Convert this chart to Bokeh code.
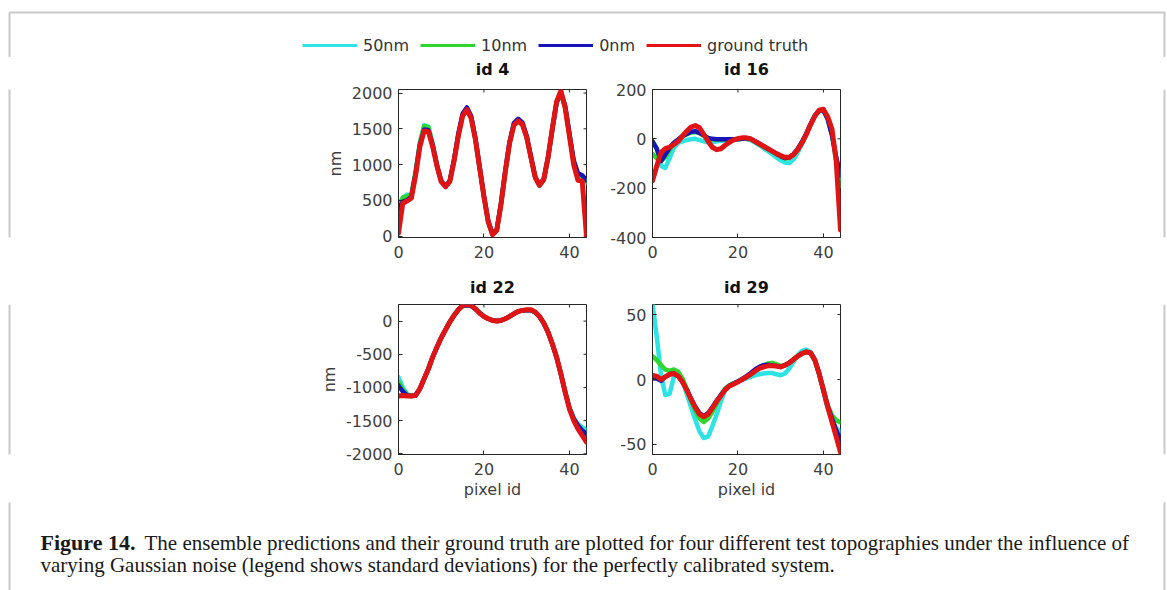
from bokeh.plotting import figure
from bokeh.layouts import column, row
from bokeh.models import (Legend, LegendItem, FixedTicker, Range1d, ColumnDataSource,
                          PrintfTickFormatter)
from bokeh.embed import file_html
from bokeh.resources import INLINE
from bokeh.core.properties import value

# ---------------- data ----------------
pixel_id = list(range(0, 45))
series_names = ["50nm", "10nm", "0nm", "ground truth"]
series_colors = ["#2ee3e3", "#2fd62f", "#1414b8", "#e01414"]

id4_50nm = [350, 520, 580, 570, 890, 1300, 1550, 1530, 1290, 990, 760, 690, 760, 1050, 1400, 1680, 1770, 1650, 1350, 950, 550, 200, 20, 80, 450, 900, 1300, 1550, 1610, 1560, 1380, 1100, 820, 700, 780, 1090, 1490, 1860, 2000, 1790, 1410, 1030, 850, 830, 750]
id4_10nm = [420, 540, 560, 580, 900, 1300, 1540, 1520, 1280, 990, 770, 700, 770, 1060, 1410, 1690, 1780, 1660, 1360, 950, 550, 200, 20, 80, 450, 900, 1300, 1560, 1620, 1570, 1390, 1100, 820, 710, 790, 1100, 1500, 1870, 2000, 1800, 1420, 1040, 860, 840, 760]
id4_0nm = [380, 480, 500, 550, 870, 1270, 1490, 1480, 1270, 990, 770, 700, 770, 1070, 1430, 1710, 1800, 1680, 1370, 960, 560, 210, 30, 90, 460, 920, 1320, 1580, 1640, 1590, 1400, 1110, 830, 720, 800, 1100, 1500, 1870, 2010, 1820, 1440, 1060, 880, 850, 780]
id4_truth = [40, 460, 490, 530, 850, 1250, 1470, 1460, 1250, 980, 760, 690, 760, 1050, 1400, 1680, 1770, 1650, 1350, 950, 550, 200, 20, 80, 450, 900, 1300, 1550, 1610, 1560, 1380, 1100, 820, 710, 790, 1100, 1500, 1880, 2030, 1800, 1400, 1000, 780, 770, 0]

id16_50nm = [-10, -40, -110, -118, -78, -37, -16, -10, -5, -2, 0, -5, -10, -14, -14, -10, -8, -7, -6, -5, -2, 0, 0, -6, -15, -26, -38, -50, -62, -75, -88, -96, -98, -84, -56, -20, 18, 56, 92, 112, 114, 80, 15, -80, -160]
id16_10nm = [-60, -80, -90, -75, -45, -20, -5, 8, 18, 25, 28, 22, 12, 3, -2, -4, -4, -3, -2, -2, -1, 0, 0, -3, -12, -22, -32, -42, -52, -62, -72, -80, -78, -64, -42, -14, 20, 58, 94, 114, 116, 85, 20, -90, -190]
id16_0nm = [-10, -40, -90, -64, -37, -16, -3, 11, 20, 29, 31, 24, 14, 4, 0, -2, -2, -2, -2, -2, -2, 0, 2, 0, -10, -20, -30, -40, -50, -60, -70, -78, -76, -62, -40, -12, 22, 60, 95, 115, 115, 80, 15, -75, -150]
id16_truth = [-170, -110, -55, -40, -34, -23, -10, 11, 31, 48, 54, 45, 18, -10, -34, -44, -40, -26, -14, -4, 1, 4, 4, 0, -10, -20, -30, -40, -50, -60, -68, -75, -75, -64, -44, -16, 18, 58, 92, 116, 120, 90, 40, -90, -370]

id22_50nm = [-844, -995, -1100, -1125, -1120, -1020, -870, -720, -543, -392, -251, -130, -15, 85, 171, 230, 245, 232, 184, 120, 70, 35, 10, 0, 10, 35, 70, 110, 146, 160, 165, 165, 132, 68, -32, -166, -342, -540, -790, -1060, -1300, -1460, -1550, -1600, -1640]
id22_10nm = [-920, -1030, -1110, -1128, -1120, -1020, -870, -720, -543, -392, -251, -130, -15, 85, 171, 232, 246, 233, 185, 120, 70, 35, 10, 0, 10, 35, 70, 110, 146, 160, 168, 168, 134, 70, -30, -166, -342, -543, -792, -1065, -1310, -1475, -1580, -1650, -1700]
id22_0nm = [-970, -1060, -1120, -1130, -1120, -1020, -870, -720, -543, -392, -251, -130, -15, 85, 171, 230, 240, 230, 184, 120, 70, 35, 10, 0, 10, 35, 70, 110, 146, 158, 162, 162, 130, 66, -32, -168, -345, -545, -795, -1065, -1310, -1470, -1570, -1650, -1700]
id22_truth = [-1130, -1120, -1130, -1130, -1120, -1020, -870, -720, -543, -392, -251, -130, -15, 85, 171, 236, 250, 236, 186, 120, 70, 35, 10, 0, 10, 35, 70, 110, 146, 161, 171, 171, 136, 70, -30, -166, -342, -543, -794, -1070, -1322, -1497, -1623, -1724, -1824]

id29_50nm = [58, 33, 3, -12, -11, 2, 5, 0, -11, -21, -31, -40, -45, -44, -36, -27, -17, -8, -4.4, -3, -1.8, 0, 0.8, 2, 3.3, 4, 4.6, 5, 5, 4, 3.3, 4.6, 8.5, 13.6, 18.7, 22, 23, 21, 15, 4.6, -9.5, -22, -31, -37.7, -40]
id29_10nm = [18, 15, 11, 7.7, 6.7, 7.7, 5.9, 0.8, -7, -16, -23.6, -30, -32.6, -30, -25, -18.5, -12, -7, -4.4, -3, -1.8, 0, 2, 4, 6.7, 9.2, 11, 12.3, 12.8, 11.8, 10.3, 11, 12.8, 15.4, 18, 20, 21.3, 20, 14.5, 4, -8, -19.7, -27.4, -31.3, -33]
id29_0nm = [1, 0.8, -1, 2, 4, 4.6, 2.6, -1.8, -7.7, -14.6, -21, -26, -28, -26, -21.5, -16.4, -12, -7.7, -4.9, -3, -1.3, 0.5, 2.6, 5, 7.7, 9.7, 11, 11.3, 10.8, 10.3, 9.7, 11, 12.8, 15.4, 18, 20, 21.3, 20.5, 14.9, 4.6, -8, -20.5, -30, -39, -46.7]
id29_truth = [3, 2.6, 0, 2, 4, 4.6, 2.6, -1.8, -8, -15, -21.5, -26.7, -28.7, -26.7, -22, -17, -12.6, -8, -5, -3.6, -1.8, 0, 2, 4, 6.4, 8.5, 9.7, 10.5, 10.5, 10.3, 9.7, 11, 12.8, 15.4, 18, 20, 21.3, 20.5, 15, 4.6, -8, -21, -32.6, -44, -56]

panel_titles = ["id 4", "id 16", "id 22", "id 29"]
panel_series = [
    [id4_50nm, id4_10nm, id4_0nm, id4_truth],
    [id16_50nm, id16_10nm, id16_0nm, id16_truth],
    [id22_50nm, id22_10nm, id22_0nm, id22_truth],
    [id29_50nm, id29_10nm, id29_0nm, id29_truth],
]
panel_ylims = [(-20, 2050), (-400, 200), (-2010, 250), (-57.7, 57.7)]
panel_yticks = [[0, 500, 1000, 1500, 2000], [-400, -200, 0, 200],
                [-2000, -1500, -1000, -500, 0], [-50, 0, 50]]
x_ticks = [0, 20, 40]
x_lim = (0, 44)

caption_bold = "Figure 14."
caption_line1 = "The ensemble predictions and their ground truth are plotted for four different test topographies under the influence of"
caption_line2 = "varying Gaussian noise (legend shows standard deviations) for the perfectly calibrated system."

# ---------------- styling ----------------
W = 1167
BORDER = "#c9c9c9"
FONT = "DejaVu Sans"
TICK_COLOR = "#404040"
AX_COLOR = "#262626"


def blank(w, h, fill="white"):
    p = figure(width=w, height=h, x_range=Range1d(0, w), y_range=Range1d(h, 0),
               output_backend="svg", toolbar_location=None, min_border=0)
    p.axis.visible = False
    p.grid.visible = False
    p.outline_line_color = None
    p.background_fill_color = fill
    p.border_fill_color = fill
    return p


def side(w, h, xline):
    # page-frame side strip
    p = blank(w, h)
    p.line([xline, xline], [0, h], line_color=BORDER, line_width=2)
    return p


def style_axis(ax, ticks):
    ax.ticker = FixedTicker(ticks=ticks)
    ax.formatter = PrintfTickFormatter(format="%d")
    ax.major_tick_in = 4
    ax.major_tick_out = 0
    ax.minor_tick_line_color = None
    ax.major_tick_line_color = AX_COLOR
    ax.axis_line_color = AX_COLOR
    ax.major_label_text_font = FONT
    ax.major_label_text_font_size = "16px"
    ax.major_label_text_color = TICK_COLOR
    ax.axis_label_text_font = FONT
    ax.axis_label_text_font_size = "16px"
    ax.axis_label_text_font_style = "normal"
    ax.axis_label_text_color = TICK_COLOR


def panel(i, w, h, mbl, mbr, mbt, mbb, ylabel, xlabel, title_pad):
    x0, x1 = x_lim
    y0, y1 = panel_ylims[i]
    p = figure(width=w, height=h, x_range=Range1d(x0, x1), y_range=Range1d(y0, y1),
               output_backend="svg", toolbar_location=None,
               min_border_left=mbl, min_border_right=mbr, min_border_top=mbt, min_border_bottom=mbb)
    p.grid.visible = False
    p.outline_line_color = AX_COLOR
    p.outline_line_width = 1
    p.background_fill_color = "white"
    p.border_fill_color = "white"
    p.title.text = panel_titles[i]
    p.title.align = "center"
    p.title.text_font = FONT
    p.title.text_font_size = "16px"
    p.title.text_font_style = "bold"
    p.title.text_color = "#111111"
    p.title.standoff = 0
    p.title.padding = dict(left=0, right=0, top=0, bottom=title_pad)
    style_axis(p.xaxis[0], x_ticks)
    style_axis(p.yaxis[0], panel_yticks[i])
    p.xaxis[0].major_label_standoff = 8
    p.yaxis[0].major_label_standoff = 6
    if xlabel:
        p.xaxis[0].axis_label = xlabel
        p.xaxis[0].axis_label_standoff = 2
    if ylabel:
        p.yaxis[0].axis_label = ylabel
        p.yaxis[0].axis_label_standoff = 4
    # inner box ticks on the top and right edges (MATLAB box style)
    ytk = panel_yticks[i]
    xtk = x_ticks
    dx = (x1 - x0) * 3.0 / 188
    dy = (y1 - y0) * 3.0 / 149
    p.segment(x0=[x1 - dx] * len(ytk), y0=ytk, x1=[x1] * len(ytk), y1=ytk, line_color=AX_COLOR, line_width=1)
    p.segment(x0=xtk, y0=[y1 - dy] * len(xtk), x1=xtk, y1=[y1] * len(xtk), line_color=AX_COLOR, line_width=1)
    src = ColumnDataSource(dict(x=pixel_id, s0=panel_series[i][0], s1=panel_series[i][1],
                                s2=panel_series[i][2], s3=panel_series[i][3]))
    widths = [4.5, 4.5, 4.5, 5]
    for k in range(4):
        p.line("x", "s%d" % k, source=src, line_color=series_colors[k], line_width=widths[k],
               line_join="round", line_cap="round")
    return p


# ---------------- top strip with border and legend ----------------
TOP_H = 57
top = blank(W, TOP_H)
top.line([9, 9, 1164, 1164], [TOP_H + 5, 12, 12, TOP_H + 5], line_color=BORDER, line_width=2)
dummies = []
for k in range(4):
    r = top.line(x=[-20, -10], y=[-20, -20], line_color=series_colors[k], line_width=3)
    dummies.append(r)
legend = Legend(items=[LegendItem(label=series_names[k], renderers=[dummies[k]]) for k in range(4)],
                orientation="horizontal", location=(302, 2),
                glyph_width=55, glyph_height=20, label_height=20, label_standoff=6, spacing=11,
                padding=0, margin=0, border_line_color=None, background_fill_alpha=0,
                label_text_font=FONT, label_text_font_size="16px", label_text_color="#333333")
top.add_layout(legend, "center")

# ---------------- panel rows ----------------
R1_H = 206
R2_H = 239
p4 = panel(0, 300, R1_H, 98, 14, 31, 26, "nm", None, 11)
p16 = panel(1, 260, R1_H, 52, 20, 31, 26, None, None, 11)
p22 = panel(2, 300, R2_H, 98, 14, 41, 48, "nm", "pixel id", 8)
p29 = panel(3, 260, R2_H, 52, 20, 41, 48, None, "pixel id", 8)

row1 = row(side(300, R1_H, 9), p4, p16, side(307, R1_H, 304))
row2 = row(side(300, R2_H, 9), p22, p29, side(307, R2_H, 304))

# ---------------- caption ----------------
CAP_H = 88
cap = blank(W, CAP_H)
cap.line([9, 9], [-5, CAP_H + 5], line_color=BORDER, line_width=2)
cap.line([1164, 1164], [-5, CAP_H + 5], line_color=BORDER, line_width=2)
cap.text(x=[40], y=[40], text=[caption_bold], text_font=value("Liberation Serif"),
         text_font_style="bold", text_font_size="22px", text_baseline="middle", text_color="#1a1a1a")
cap.text(x=[144, 40], y=[40, 62], text=[caption_line1, caption_line2], text_font=value("Liberation Serif"),
         text_font_size="21px", text_baseline="middle", text_color="#1a1a1a")

layout = column(top, row1, row2, cap)
open("out.html", "w").write(file_html(layout, INLINE))
